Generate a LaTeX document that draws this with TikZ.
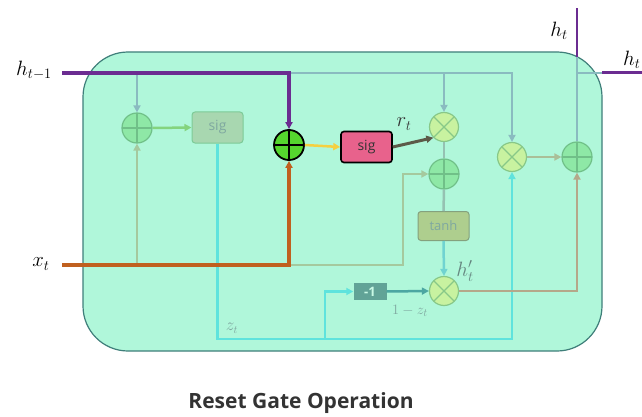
\documentclass[tikz,border=0pt]{standalone}
\usepackage{fontspec}
\newfontfamily\osans{Open Sans}
\usetikzlibrary{arrows.meta}
\definecolor{mint}{HTML}{B0F7DA}
\definecolor{boxbd}{HTML}{3F7F7A}
\definecolor{purp}{HTML}{6B2C91}
\definecolor{orng}{HTML}{C0601F}
\definecolor{hfade}{HTML}{8ABBC0}
\definecolor{xfade}{HTML}{A5C99E}
\definecolor{zcol}{HTML}{5FE3DD}
\definecolor{pinkc}{HTML}{E8628C}
\definecolor{rtcol}{HTML}{5C5A48}
\definecolor{yell}{HTML}{F5D040}
\definecolor{brn}{HTML}{B5A88A}
\definecolor{fplusc}{HTML}{8EE8A6}
\definecolor{fplusb}{HTML}{70C088}
\definecolor{ftimesc}{HTML}{C8F2A0}
\definecolor{ftimesb}{HTML}{88C888}
\definecolor{mgreen}{HTML}{55D62E}
\definecolor{lbl}{HTML}{7FA8A0}
\tikzset{
  arr/.style={-{Triangle[length=7pt,width=7pt]}},
  plusx/.style={circle, minimum size=30pt, inner sep=0pt,
    path picture={\draw[line width=1.3pt, draw=#1] (path picture bounding box.north) -- (path picture bounding box.south)
      (path picture bounding box.west) -- (path picture bounding box.east);}},
  timesx/.style={circle, minimum size=29pt, inner sep=0pt,
    path picture={\draw[line width=1.3pt, draw=#1] (path picture bounding box.north west) -- (path picture bounding box.south east)
      (path picture bounding box.north east) -- (path picture bounding box.south west);}},
  fplus/.style={plusx=fplusb, fill=fplusc, draw=fplusb, line width=1.2pt},
  ftimes/.style={timesx=ftimesb, fill=ftimesc, draw=ftimesb, line width=1.2pt},
  mplus/.style={plusx=black, fill=mgreen, draw=black, line width=1.8pt},
  gbox/.style={rounded corners=3pt, minimum width=51pt, minimum height=31pt, inner sep=0pt, font=\osans\fontsize{14}{16}\selectfont},
  fline/.style={line width=2.5pt},
  mlab/.style={font=\fontsize{20}{24}\selectfont, inner sep=0pt},
}
\begin{document}
\begin{tikzpicture}[x=1pt,y=-1pt]
\useasboundingbox (0,0) rectangle (642,417);
\fill[white] (0,0) rectangle (642,417);
\draw[draw=boxbd, fill=mint, line width=1.2pt, rounded corners=45pt] (83,52) rectangle (602,351);

% nodes
\node[fplus] (p1) at (137,128) {};
\node[gbox, fill=xfade!70!mint, draw=fplusb!80!mint, line width=1pt, text=lbl] (s1) at (217.5,127.5) {sig};
\node[mplus] (pm) at (289,145) {};
\node[gbox, fill=pinkc, draw=black, line width=1.6pt, text=black!80] (s2) at (366.5,147) {sig};
\node[ftimes] (m1) at (444,127) {};
\node[fplus] (p2) at (444,174) {};
\node[gbox, fill=xfade!90!yellow, draw=xfade!80!black, line width=1pt, text=lbl, minimum height=29pt, font=\osans\fontsize{13}{15}\selectfont] (th) at (443.5,226) {tanh};
\node[ftimes] (m3) at (444,291) {};
\node[fill=boxbd!70!mint, text=mint!70!white, minimum width=33pt, minimum height=17pt, inner sep=0pt, font=\osans\bfseries\fontsize{13}{15}\selectfont] (neg) at (370,291.5) {-1};
\node[ftimes] (m2) at (512,157) {};
\node[fplus] (p4) at (577,157) {};

% free ends
\coordinate (hin) at (62,73);
\coordinate (xin) at (62,265);
\coordinate (xturn) at (403,174);
\coordinate (zc) at (325,339);
\coordinate (htop) at (577,8);
\coordinate (hexit) at (577,57);
\coordinate (hedge) at (602,73);
\coordinate (hright) at (642,73);

% faded h_{t-1} branches
\draw[fline, hfade, arr] (p1.north |- hin) -- (p1.north);
\draw[fline, hfade, arr] (pm.north |- hin) -| (m1.north);
\draw[fline, hfade, arr] (m1.north |- hin) -| (m2.north);
% faded x_t branches
\draw[fline, xfade, arr] (p1.south |- xin) -- (p1.south);
\draw[fline, xfade, arr] (pm.south |- xin) -| (xturn) -- (p2.west);
% z line
\draw[fline, zcol, arr] (s1.south) |- (zc) -| (m2.south);
\draw[fline, zcol, arr] (zc) |- (neg.west);
% faded internal
\draw[fline, xfade!80!green, arr] (p1.east) -- (s1.west);
\draw[fline, hfade!60!xfade] (m1.south) -- (p2.north);
\draw[fline, hfade!60!xfade] (p2.south) -- (th.north);
\draw[fline, zcol!60!hfade, arr] (th.south) -- (m3.north);
\draw[fline, boxbd!60!zcol, arr] (neg.east) -- (m3.west);
\draw[fline, brn, arr] (m3.east) -| (p4.south);
\draw[fline, xfade!70!brn, arr] (m2.east) -- (p4.west);
\draw[fline, hfade] (p4.north) -- (hexit);
\draw[fline, hfade] (p4.north |- hin) -- (hedge);
% active paths
\draw[line width=4pt, purp, arr] (hin) -| (pm.north);
\draw[line width=3.5pt, orng, arr] (xin) -| (pm.south);
\draw[line width=2.5pt, yell, arr] (pm.east) -- (s2.west);
\draw[line width=3pt, rtcol, arr] (s2.east) -- (m1.south west);
\draw[line width=2.5pt, purp] (hexit) -- (htop);
\draw[line width=3pt, purp] (hedge) -- (hright);

% labels
\node[mlab] (lh1) at (34,70) {$h_{t-1}$};
\node[mlab] (lx) at (41,264) {$x_t$};
\node[mlab] (lht) at (559,31) {$h_t$};
\node[mlab, anchor=west] (lht2) at (623,60) {$h_t$};
\node[mlab, text=black!80] (lr) at (404,124) {$r_t$};
\node[mlab, text=lbl!80!black] (lhp) at (465,271) {$h'_t$};
\node[font=\fontsize{16}{19}\selectfont, text=lbl, inner sep=0pt] (lz) at (232,328) {$z_t$};
\node[font=\fontsize{15}{18}\selectfont, text=lbl, inner sep=0pt] (l1z) at (410,311) {$1-z_t$};
\node[font=\osans\bfseries\fontsize{21}{25}\selectfont, text=black!80] (title) at (301,403) {Reset Gate Operation};
\end{tikzpicture}
\end{document}
